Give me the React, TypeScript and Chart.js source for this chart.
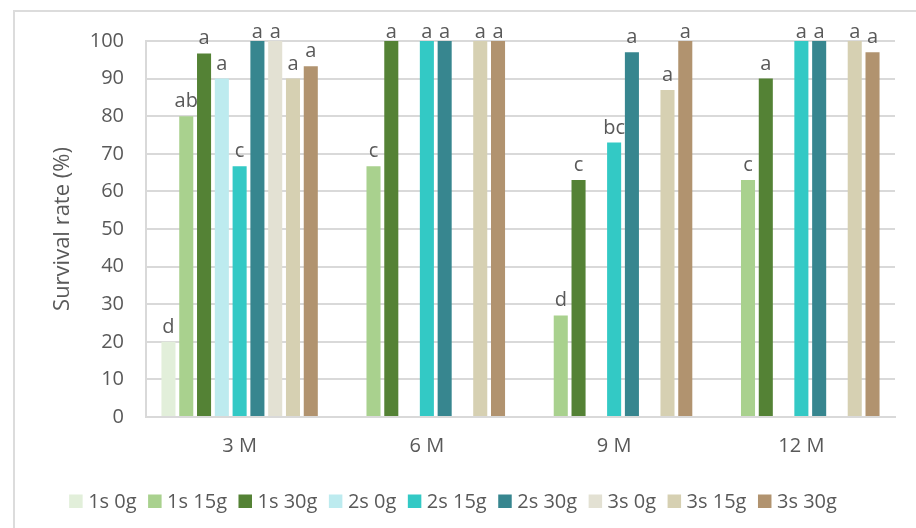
import React, { useEffect, useRef } from "react";
import { Chart, registerables } from "chart.js";

Chart.register(...registerables);

const categories = ["3 M", "6 M", "9 M", "12 M"];
const seriesNames = ["1s 0g", "1s 15g", "1s 30g", "2s 0g", "2s 15g", "2s 30g", "3s 0g", "3s 15g", "3s 30g"];
const seriesColors = ["#E2EFDA", "#A9D18E", "#548235", "#BDEBEF", "#33C9C5", "#37868F", "#E3E1D3", "#D6D0B2", "#B1936F"];

const s1_0 = [20, null, null, null];
const s1_15 = [80, 66.7, 27, 63];
const s1_30 = [96.7, 100, 63, 90];
const s2_0 = [90, null, null, null];
const s2_15 = [66.7, 100, 73, 100];
const s2_30 = [100, 100, 97, 100];
const s3_0 = [100, null, null, null];
const s3_15 = [90, 100, 87, 100];
const s3_30 = [93.3, 100, 100, 97];

const l1_0 = ["d", "", "", ""];
const l1_15 = ["ab", "c", "d", "c"];
const l1_30 = ["a", "a", "c", "a"];
const l2_0 = ["a", "", "", ""];
const l2_15 = ["c", "a", "bc", "a"];
const l2_30 = ["a", "a", "a", "a"];
const l3_0 = ["a", "", "", ""];
const l3_15 = ["a", "a", "a", "a"];
const l3_30 = ["a", "a", "a", "a"];

const seriesValues = [s1_0, s1_15, s1_30, s2_0, s2_15, s2_30, s3_0, s3_15, s3_30];
const seriesLetters = [l1_0, l1_15, l1_30, l2_0, l2_15, l2_30, l3_0, l3_15, l3_30];

const yMin = 0;
const yMax = 100;
const yStep = 10;
const yTitle = "Survival rate (%)";

const FONT = "'Open Sans', 'Noto Sans', sans-serif";
const TEXT = "#595959";
const GRID = "#D9D9D9";

const labelPlugin = {
  id: "letterLabels",
  afterDatasetsDraw(chart: any) {
    const ctx = chart.ctx;
    ctx.save();
    ctx.font = `20px ${FONT}`;
    ctx.fillStyle = TEXT;
    ctx.textAlign = "center";
    ctx.textBaseline = "alphabetic";
    chart.data.datasets.forEach((ds: any, i: number) => {
      const meta = chart.getDatasetMeta(i);
      meta.data.forEach((bar: any, j: number) => {
        const v = ds.data[j];
        const txt = ds.letters[j];
        if (v == null || !txt) return;
        const y = Math.max(bar.y - 9, chart.chartArea.top - 3);
        ctx.fillText(txt, bar.x, y);
      });
    });
    ctx.restore();
  },
};

const legendPlugin = {
  id: "customLegend",
  afterDraw(chart: any) {
    const ctx = chart.ctx;
    ctx.save();
    ctx.font = `20px ${FONT}`;
    ctx.textBaseline = "alphabetic";
    ctx.textAlign = "left";
    const box = 13.5;
    const gapText = 5.5;
    const gapItem = 11.5;
    const items = chart.data.datasets.map((ds: any) => ({
      label: ds.label,
      color: ds.backgroundColor,
      w: box + gapText + ctx.measureText(ds.label).width,
    }));
    const total = items.reduce((a: number, it: any) => a + it.w, 0) + gapItem * (items.length - 1);
    let x = 453 - total / 2;
    const baseline = 508;
    items.forEach((it: any) => {
      ctx.fillStyle = it.color;
      ctx.fillRect(x, baseline - box, box, box);
      ctx.fillStyle = TEXT;
      ctx.fillText(it.label, x + box + gapText, baseline);
      x += it.w + gapItem;
    });
    ctx.restore();
  },
};

export default function App() {
  const ref = useRef<HTMLCanvasElement | null>(null);
  useEffect(() => {
    if (!ref.current) return;
    const chart = new Chart(ref.current, {
      type: "bar",
      data: {
        labels: categories,
        datasets: seriesNames.map((name, i) => ({
          label: name,
          data: seriesValues[i],
          letters: seriesLetters[i],
          backgroundColor: seriesColors[i],
          borderWidth: 0,
          categoryPercentage: 0.855,
          barPercentage: 0.79,
        })) as any,
      },
      options: {
        animation: false,
        responsive: false,
        devicePixelRatio: 1,
        layout: { padding: { left: 0, top: 41, right: 21, bottom: 0 } },
        plugins: {
          legend: { display: false },
          tooltip: { enabled: false },
        },
        scales: {
          x: {
            grid: { display: false, drawTicks: false },
            border: { display: true, color: GRID, width: 2 },
            ticks: { color: TEXT, font: { family: FONT, size: 20 }, padding: 17 },
            afterFit: (s: any) => { s.height = 111; },
          },
          y: {
            min: yMin,
            max: yMax,
            ticks: { stepSize: yStep, color: TEXT, font: { family: FONT, size: 20 }, padding: 22 },
            grid: { color: GRID, lineWidth: 2, drawTicks: false },
            border: { display: true, color: GRID, width: 2 },
            title: {
              display: true,
              text: yTitle,
              color: TEXT,
              font: { family: FONT, size: 22, weight: "normal" },
              padding: { top: 50, bottom: 0 },
            },
            afterFit: (s: any) => { s.width = 146; },
          },
        },
      },
      plugins: [labelPlugin, legendPlugin],
    });
    return () => chart.destroy();
  }, []);
  return (
    <div style={{ position: "absolute", left: 0, top: 0, width: 916, height: 528, background: "#fff", overflow: "hidden" }}>
      <div style={{ position: "absolute", left: 13, top: 10, width: 920, height: 530, borderLeft: "2px solid #DCDCDC", borderTop: "2px solid #DCDCDC" }} />
      <canvas ref={ref} width={916} height={528} style={{ position: "absolute", left: 0, top: 0, width: 916, height: 528 }} />
    </div>
  );
}
